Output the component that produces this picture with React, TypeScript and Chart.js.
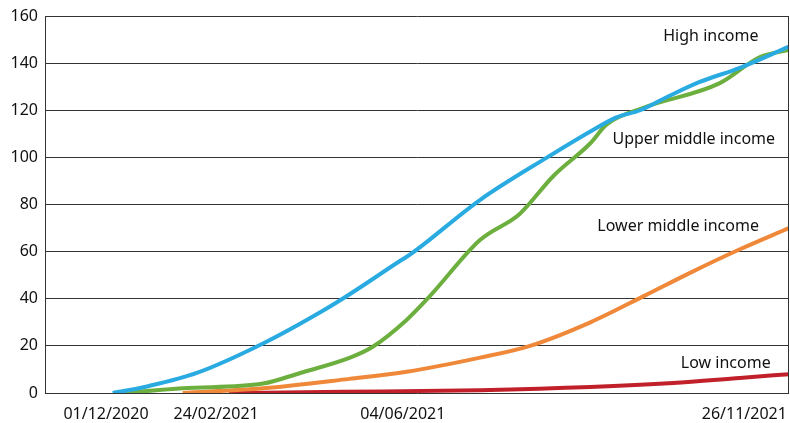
import React, { useEffect, useRef } from "react";
import { Chart, registerables } from "chart.js";

Chart.register(...registerables);

// x positions are in an abstract timeline index (0 = left edge, 100 = right edge)
const tickPositions = [8.2, 23.0, 48.1, 94.0];
const tickLabels = ["01/12/2020", "24/02/2021", "04/06/2021", "26/11/2021"];

const highX = [9.1, 14, 20.4, 29.3, 37.4, 41, 47.7, 49, 58.5, 67.5, 73.3, 76.8, 80, 83.6, 88, 93.4, 100];
const highY = [0, 3, 8.5, 21, 35, 42, 56, 58.6, 82, 100, 111, 117, 120, 125.6, 132, 138, 147];

const upperX = [10.7, 18.5, 29.3, 34.3, 41, 44, 48.6, 51.7, 58.5, 63.8, 68.3, 73.3, 75.5, 80.4, 90.7, 96.1, 100];
const upperY = [0, 2, 4, 8.5, 15, 19.5, 31, 41, 65, 76, 92, 106, 114, 121, 131.5, 142.6, 145.6];

const lowerX = [18.5, 29.3, 40.9, 48.6, 58.5, 65.2, 73.3, 80.4, 86.7, 93.4, 100];
const lowerY = [0, 2, 6, 9, 15, 20, 30, 41, 51, 61, 70];

const lowX = [24.7, 40.1, 58.5, 73.3, 84.4, 93.4, 100];
const lowY = [0, 0.5, 1.2, 2.5, 4.2, 6.4, 8];

const seriesNames = ["High income", "Upper middle income", "Lower middle income", "Low income"];
const seriesColors = ["#29ABE2", "#6CAF3E", "#F0883A", "#C1202B"];

// annotation anchors (data units)
const labelAnchorX = [89.5, 87.2, 85.1, 91.5];
const labelAnchorY = [151.5, 107.8, 70.5, 12.7];

const FONT = "'Noto Sans', sans-serif";

function pts(xs: number[], ys: number[]) {
  return xs.map((x, i) => ({ x, y: ys[i] }));
}

export default function App() {
  const ref = useRef<HTMLCanvasElement | null>(null);

  useEffect(() => {
    document.body.style.margin = "0";
    const ctx = ref.current!.getContext("2d")!;

    const labelPlugin = {
      id: "seriesLabels",
      afterDatasetsDraw(chart: any) {
        const c = chart.ctx;
        const xs = chart.scales.x;
        const ys = chart.scales.y;
        c.save();
        c.font = `16px ${FONT}`;
        c.fillStyle = "#111";
        c.textAlign = "center";
        c.textBaseline = "middle";
        seriesNames.forEach((n, i) => {
          c.fillText(n, xs.getPixelForValue(labelAnchorX[i]), ys.getPixelForValue(labelAnchorY[i]));
        });
        // right border of plot
        const a = chart.chartArea;
        c.strokeStyle = "#333";
        c.lineWidth = 1;
        c.beginPath();
        c.moveTo(Math.round(a.right) - 0.5, a.top);
        c.lineTo(Math.round(a.right) - 0.5, a.bottom);
        c.stroke();
        c.restore();
      },
    };

    const series = [
      pts(highX, highY),
      pts(upperX, upperY),
      pts(lowerX, lowerY),
      pts(lowX, lowY),
    ];

    const chart = new Chart(ctx, {
      type: "line",
      data: {
        datasets: series.map((d, i) => ({
          label: seriesNames[i],
          data: d,
          borderColor: seriesColors[i],
          backgroundColor: seriesColors[i],
          borderWidth: 4,
          pointRadius: 0,
          cubicInterpolationMode: "monotone" as const,
          fill: false,
        })),
      },
      options: {
        animation: false,
        responsive: true,
        maintainAspectRatio: false,
        layout: { padding: { top: 16, right: 1, left: 0, bottom: 0 } },
        plugins: { legend: { display: false }, tooltip: { enabled: false } },
        scales: {
          x: {
            type: "linear",
            min: 0,
            max: 100,
            grid: { display: false, drawTicks: false },
            border: { display: false },
            afterBuildTicks: (s: any) => {
              s.ticks = tickPositions.map((v) => ({ value: v }));
            },
            afterFit: (s: any) => {
              s.height = 30;
              s.paddingLeft = 0;
              s.paddingRight = 0;
            },
            ticks: {
              autoSkip: false,
              maxRotation: 0,
              padding: 12,
              color: "#111",
              font: { family: FONT, size: 16 },
              callback: (_v: any, i: number) => tickLabels[i],
            },
          },
          y: {
            min: 0,
            max: 160,
            grid: { color: "#333", lineWidth: 1, drawTicks: false },
            border: { display: true, color: "#333", width: 1 },
            afterFit: (s: any) => {
              s.width = 45;
              s.paddingTop = 0;
              s.paddingBottom = 0;
            },
            ticks: {
              stepSize: 20,
              padding: 7,
              color: "#111",
              font: { family: FONT, size: 16 },
            },
          },
        },
      },
      plugins: [labelPlugin],
    });
    return () => chart.destroy();
  }, []);

  return (
    <div style={{ width: 790, height: 423, position: "relative" }}>
      <canvas ref={ref} />
    </div>
  );
}
